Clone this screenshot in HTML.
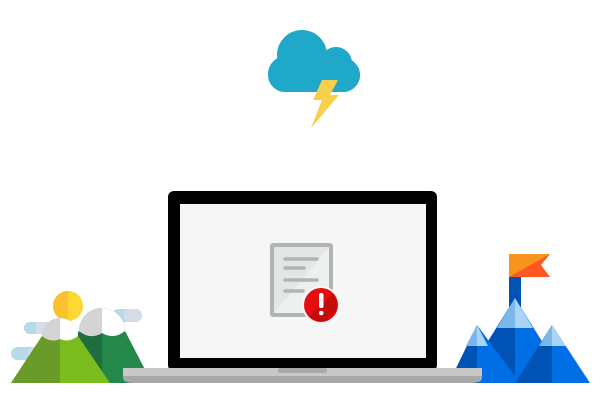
<!DOCTYPE html>
<html><head><style>body{margin:0;background:#fff}svg{display:block}</style></head><body>
<svg width="600" height="400" viewBox="0 0 600 400" xmlns="http://www.w3.org/2000/svg">
<!-- cloud -->
<g fill="#1fa8c9">
<circle cx="302" cy="55" r="25"/>
<circle cx="336" cy="63" r="16"/>
<circle cx="343" cy="75" r="17"/>
<circle cx="286" cy="74" r="18"/>
<rect x="268" y="58" width="92" height="34" rx="17"/>
</g>
<polygon points="322,80 338,80 330,95 339,95 311,128 322,100 313,100" fill="#f7cf4b"/>
<!-- left scene -->
<rect x="24" y="322" width="24" height="12" rx="6" fill="#b3dbe8"/>
<rect x="36" y="322" width="12" height="12" fill="#d5dde8"/>
<rect x="11" y="347" width="35" height="13" rx="6.5" fill="#b3dbe8"/>
<rect x="28" y="347" width="18" height="13" rx="6" fill="#d5dde8"/>
<rect x="112" y="309" width="30" height="13" rx="6.5" fill="#b3dbe8"/>
<rect x="124" y="309" width="18" height="13" rx="6" fill="#d5dde8"/>
<circle cx="68" cy="306" r="15" fill="#fdd835"/>
<path d="M68,291 A15,15 0 0 0 68,321 Z" fill="#fbc02d"/>
<path d="M52,383 L79,331 A23,23 0 0 1 125,331 L152,383 Z" fill="#23884a"/>
<path d="M52,383 L79,331 A23,23 0 0 1 102,308 L102,383 Z" fill="#1e6e40"/>
<path d="M79,331 A23,23 0 0 1 125,331 Q114,340 102,333 Q90,340 79,331 Z" fill="#fff"/>
<path d="M79,331 A23,23 0 0 1 102,308 L102,333 Q90,340 79,331 Z" fill="#d4d4d4"/>
<path d="M11,383 L42,336 A18,18 0 0 1 78,336 L110,383 Z" fill="#7cbc1f"/>
<path d="M11,383 L42,336 A18,18 0 0 1 60,318 L60,383 Z" fill="#6a9a2a"/>
<path d="M42,336 A18,18 0 0 1 78,336 Q69,343 60,339 Q51,343 42,336 Z" fill="#fff"/>
<path d="M42,336 A18,18 0 0 1 60,318 L60,339 Q51,343 42,336 Z" fill="#d4d4d4"/>
<!-- right scene -->
<rect x="509" y="277" width="12" height="30" fill="#0052b4"/>
<polygon points="509,254 550,254 541,265 550,277 509,277" fill="#ff5722"/>
<polygon points="509,254 550,254 509,277" fill="#f7941d"/>
<polygon points="515,298 462,383 568,383" fill="#006fe6"/>
<polygon points="515,298 462,383 515,383" fill="#0052b4"/>
<polygon points="515,298 497,328 533,328" fill="#aad4f5"/>
<polygon points="515,298 497,328 515,328" fill="#7ab8ec"/>
<polygon points="477,325 449,383 520,383" fill="#006fe6"/>
<polygon points="477,325 449,383 477,383" fill="#0052b4"/>
<polygon points="477,325 466,346 488,346" fill="#aad4f5"/>
<polygon points="477,325 466,346 477,346" fill="#7ab8ec"/>
<polygon points="552,325 515,383 590,383" fill="#006fe6"/>
<polygon points="552,325 515,383 552,383" fill="#0052b4"/>
<polygon points="552,325 539,346 566,346" fill="#aad4f5"/>
<polygon points="552,325 539,346 552,346" fill="#7ab8ec"/>
<!-- laptop -->
<rect x="168" y="191" width="269" height="180" rx="6" fill="#000"/>
<rect x="180" y="204" width="246" height="154" fill="#f6f6f6"/>
<rect x="123" y="368" width="359" height="9" fill="#c8c8c8"/>
<path d="M123,376 H482 V378 Q482,383 470,383 H135 Q123,383 123,378 Z" fill="#a8a8a8"/>
<rect x="278" y="368" width="49" height="5" rx="2" fill="#a9a9a9"/>
<!-- document -->
<rect x="270" y="243" width="63" height="74" rx="3" fill="#b0b5b3"/>
<rect x="274" y="247" width="55" height="66" fill="#e3e6e5"/>
<polygon points="329,247 329,313 274,313" fill="#eef0ef"/>
<g stroke="#b0b5b3" stroke-width="3.5" stroke-linecap="round">
<line x1="285" y1="259" x2="317" y2="259"/>
<line x1="285" y1="268" x2="304" y2="268"/>
<line x1="285" y1="280" x2="317" y2="280"/>
<line x1="285" y1="291" x2="303" y2="291"/>
</g>
<circle cx="321" cy="305" r="19" fill="#f6f6f6"/>
<circle cx="321" cy="305" r="17" fill="#e50d0d"/>
<path d="M333,293 A17,17 0 0 1 309,317 Z" fill="#c80a0a"/>
<rect x="319" y="293" width="4.5" height="15" rx="2" fill="#fff"/>
<circle cx="321.2" cy="313" r="2.3" fill="#fff"/>
</svg>
</body></html>
